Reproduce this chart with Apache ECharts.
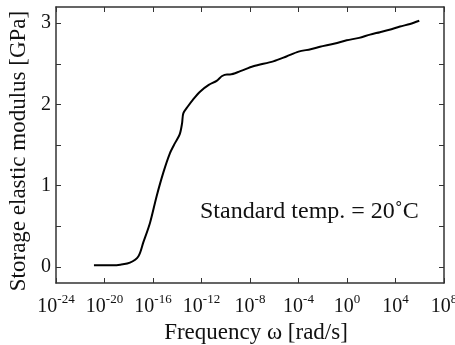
<!DOCTYPE html>
<html>
<head>
<meta charset="utf-8">
<script src="https://cdn.jsdelivr.net/npm/echarts@6/dist/echarts.min.js"></script>
<style>html,body{margin:0;padding:0;background:#fff}#c{width:455px;height:345px}</style>
</head>
<body>
<div id="c"></div>
<script>
// log10 of frequency [rad/s]
const freqExp = [-20.87, -20, -19, -18.7, -17.9, -17.2, -16.8, -16.25, -15.7, -15.15, -14.6, -14.2, -13.8, -13.6, -13.5, -13.1, -12.7, -12.1, -11.4, -10.75, -10.3, -9.9, -9.65, -8.8, -7.73, -6.08, -5, -4.0, -3, -2.23, -1, -0.03, 1, 1.9, 2.72, 3.5, 4.37, 5.2, 5.96];
// storage elastic modulus [GPa]
const modulus = [0.02, 0.02, 0.02, 0.025, 0.05, 0.13, 0.30, 0.54, 0.87, 1.16, 1.40, 1.52, 1.63, 1.77, 1.89, 1.98, 2.06, 2.16, 2.24, 2.29, 2.35, 2.37, 2.37, 2.41, 2.47, 2.53, 2.59, 2.65, 2.68, 2.71, 2.75, 2.79, 2.82, 2.86, 2.89, 2.92, 2.96, 2.99, 3.03];
const xTickExps = [-24, -20, -16, -12, -8, -4, 0, 4, 8];
const yLabels = [0, 1, 2, 3];
const yTicks = [0, 0.5, 1, 1.5, 2, 2.5, 3];
const annotation = 'Standard temp. = 20\u02DAC';

const font = 'Liberation Serif';
const axisColor = '#333';
const chart = echarts.init(document.getElementById('c'), null, {renderer: 'canvas'});
const data = freqExp.map((e, i) => [e, modulus[i]]);
const lineCfg = {show: true, onZero: false, lineStyle: {color: axisColor, width: 1.5}};
chart.setOption({
  animation: false,
  grid: {left: 56, right: 11, top: 7, bottom: 62, containLabel: false, outerBoundsMode: 'none'},
  xAxis: [{
    type: 'value', min: -24, max: 8, interval: 4, position: 'bottom',
    axisLine: lineCfg,
    axisTick: {show: true, inside: true, length: 5, customValues: xTickExps, lineStyle: {color: axisColor}},
    splitLine: {show: false},
    axisLabel: {
      customValues: xTickExps,
      margin: 10, fontFamily: font, color: '#111',
      formatter: v => '{b|10}{s|' + v + '}',
      rich: {
        b: {fontSize: 20, fontFamily: font, color: '#111', verticalAlign: 'bottom', lineHeight: 24},
        s: {fontSize: 13, fontFamily: font, color: '#111', verticalAlign: 'bottom', lineHeight: 13, padding: [0, 0, 11, 0]}
      }
    },
    name: 'Frequency \u03C9 [rad/s]', nameLocation: 'middle', nameGap: 33,
    nameTextStyle: {fontFamily: font, fontSize: 23, color: '#111', padding: [0, 0, 0, 12]}
  }, {
    type: 'value', min: -24, max: 8, interval: 4, position: 'top',
    axisLine: lineCfg,
    axisTick: {show: true, inside: true, length: 5, customValues: xTickExps, lineStyle: {color: axisColor}},
    axisLabel: {show: false}, splitLine: {show: false}
  }],
  yAxis: [{
    type: 'value', min: -0.2, max: 3.2, position: 'left',
    axisLine: lineCfg,
    axisTick: {show: true, inside: true, length: 5, customValues: yTicks, lineStyle: {color: axisColor}},
    splitLine: {show: false},
    axisLabel: {customValues: yLabels, fontFamily: font, fontSize: 20, color: '#111', margin: 5},
    name: 'Storage elastic modulus [GPa]', nameLocation: 'middle', nameGap: 26,
    nameTextStyle: {fontFamily: font, fontSize: 23, color: '#111', padding: [0, 12, 0, 0]}
  }, {
    type: 'value', min: -0.2, max: 3.2, position: 'right',
    axisLine: lineCfg,
    axisTick: {show: true, inside: true, length: 5, customValues: yTicks, lineStyle: {color: axisColor}},
    axisLabel: {show: false}, splitLine: {show: false}
  }],
  series: [{
    type: 'line', xAxisIndex: 0, yAxisIndex: 0, data: data,
    showSymbol: false, smooth: 0.3,
    lineStyle: {color: '#000', width: 2}
  }],
  graphic: [{
    type: 'text', left: 200, top: 200,
    style: {text: annotation, font: '24px "Liberation Serif"', fill: '#111'}
  }]
});
</script>
</body>
</html>
